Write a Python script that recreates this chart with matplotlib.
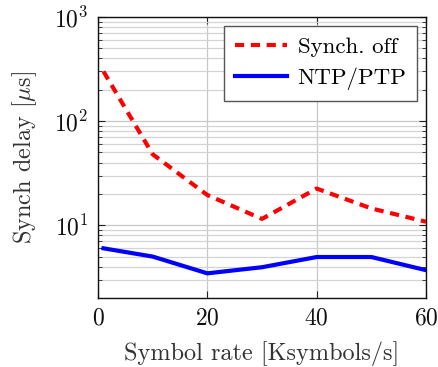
import matplotlib
matplotlib.use("Agg")
import matplotlib.pyplot as plt
from matplotlib.ticker import LogLocator, NullFormatter

plt.rcParams['font.family'] = 'serif'
plt.rcParams['font.serif'] = ['cmr10']
plt.rcParams['mathtext.fontset'] = 'cm'
plt.rcParams['axes.formatter.use_mathtext'] = True

x = [1, 10, 20, 30, 40, 50, 60]
synch_off = [300, 48, 19.5, 11.5, 22.5, 14.5, 10.8]
ntp_ptp = [6.0, 5.0, 3.45, 3.95, 4.95, 4.95, 3.7]
xticks = [0, 20, 40, 60]

fig = plt.figure(figsize=(4.38, 3.67), dpi=100)
ax = fig.add_axes([98/438, 1-298/367, 328/438, 281/367])

ax.plot(x, synch_off, color='#ff0000', lw=3, ls=(0, (2.2, 1.6)), label='Synch. off')
ax.plot(x, ntp_ptp, color='#0000ff', lw=3, label='NTP/PTP')

ax.set_yscale('log')
ax.set_xlim(0, 60)
ax.set_ylim(2, 1000)
ax.set_xticks(xticks)
ax.yaxis.set_major_locator(LogLocator(base=10, numticks=10))
ax.yaxis.set_minor_locator(LogLocator(base=10, subs=range(2, 10), numticks=20))
ax.yaxis.set_minor_formatter(NullFormatter())

ax.grid(True, which='major', color='#c8c8c8', lw=0.9)
ax.grid(True, which='minor', axis='y', color='#d4d4d4', lw=0.9)
ax.set_axisbelow(True)

ax.tick_params(which='both', direction='in', top=True, right=True, labelsize=17, colors='#222222', labelcolor='#111111')
ax.tick_params(which='major', length=5, width=0.8, pad=7)
ax.tick_params(which='minor', length=3, width=0.6)
for s in ax.spines.values():
    s.set_linewidth(1.0)
    s.set_color('#111111')

ax.set_xlabel('Symbol rate [Ksymbols/s]', fontsize=17.5, color='#333333', labelpad=8)
ax.set_ylabel(r'Synch delay [$\mu$s]', fontsize=17.5, color='#333333', labelpad=11)

leg = ax.legend(loc='upper right', fontsize=16.5, frameon=True, fancybox=False,
                edgecolor='#555555', framealpha=1, handlelength=2.3,
                borderaxespad=0.4, labelspacing=0.5, handletextpad=0.45, borderpad=0.45)
leg.get_frame().set_linewidth(1.0)

fig.savefig('out.png', dpi=100)
